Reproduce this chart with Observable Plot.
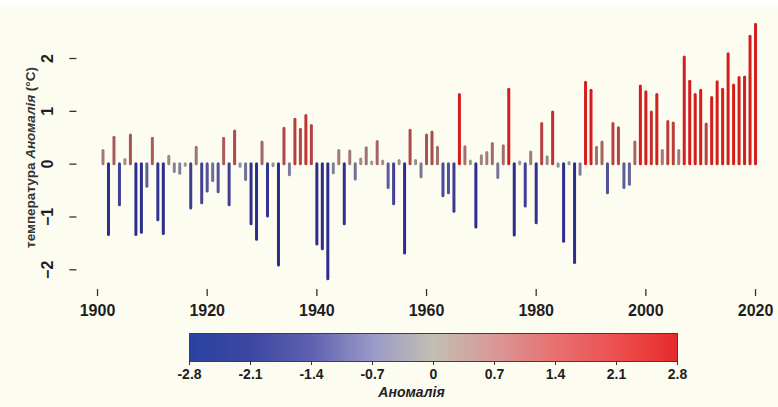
<!DOCTYPE html>
<html><head><meta charset="utf-8">
<script src="https://cdn.jsdelivr.net/npm/d3@7"></script>
<script src="https://cdn.jsdelivr.net/npm/@observablehq/plot@0.6"></script>
<style>
html,body{margin:0;padding:0;background:#fdfcf1;}
#wrap{width:778px;height:407px;position:relative;overflow:hidden;background:linear-gradient(#ffffff 0 5px,#fdfcf1 5px);font-family:"Liberation Sans",Arial,sans-serif;}
#wrap svg{display:block;background:transparent;}
</style></head><body><div id="wrap"></div>
<script>
// ---- data ----
const startYear = 1901;
const anomalies = [
  0.25,-1.34,0.50,-0.78,0.08,0.54,-1.34,-1.30,-0.43,0.48,
  -1.06,-1.32,0.14,-0.15,-0.18,-0.03,-0.84,0.31,-0.74,-0.52,
  -0.32,-0.53,0.48,-0.78,0.62,-0.05,-0.30,-1.14,-1.43,0.41,
  -0.99,-0.04,-1.92,0.67,-0.21,0.84,0.65,0.91,0.72,-1.52,
  -1.61,-2.18,-0.17,0.25,-1.14,0.24,-0.29,0.09,0.30,0.03,
  0.42,0.05,-0.45,-0.76,0.06,-1.69,0.63,0.06,-0.25,0.54,
  0.60,0.31,-0.61,-0.55,-0.90,1.31,0.32,0.05,-1.20,0.15,
  0.21,0.38,-0.26,0.34,1.41,-1.35,0.03,-0.80,0.22,-1.12,
  0.76,0.13,0.98,-0.05,-1.47,0.02,-1.87,-0.20,1.54,1.39,
  0.31,0.41,-0.55,0.76,0.68,-0.45,-0.39,0.41,1.47,1.36,
  0.98,1.31,0.25,0.80,0.77,0.25,2.02,1.56,1.31,1.39,
  0.75,1.25,1.55,1.41,2.08,1.49,1.63,1.64,2.41,2.64
];
const xTicks = [1900, 1920, 1940, 1960, 1980, 2000, 2020];
const yTicks = [-2, -1, 0, 1, 2];
const yTitleA = "температура ";
const yTitleB = "Аномалія";
const yTitleC = " (°C)";
const legendTicks = [-2.8, -2.1, -1.4, -0.7, 0, 0.7, 1.4, 2.1, 2.8];
const legendTitle = "Аномалія";
const barColorDomain = [-1.2, -0.6, 0, 0.6, 1.2];
const barColorRange = ["#2d2d8c", "#48489a", "#9a9894", "#ab4c4c", "#d41e1e"];
const legendColorDomain = [-2.8, -2.1, -1.4, -0.7, 0, 0.7, 1.4, 2.1, 2.8];
const legendColorRange = ["#2b43a0", "#3b47a2", "#5f61b0", "#9a99c8", "#c3bfb1", "#d99898", "#e87070", "#ec5050", "#e62b2b"];

const data = anomalies.map((v, i) => ({year: startYear + i, value: v}));
const yTitle = yTitleA + yTitleB + yTitleC;
const font = "Liberation Sans, Arial, sans-serif";

const main = Plot.plot({
  width: 778, height: 328,
  marginLeft: 76.4, marginRight: 0, marginTop: 14, marginBottom: 39,
  style: {background: "transparent", fontFamily: font, overflow: "visible"},
  x: {domain: [1896.24, 2024.19]},
  y: {domain: [-2.373, 2.833]},
  color: {type: "linear", domain: barColorDomain, range: barColorRange, clamp: true},
  marks: [
    Plot.ruleX(data, {x: "year", y1: 0, y2: "value", stroke: "value", strokeWidth: 3, strokeLinecap: "round"}),
    Plot.axisX({ticks: xTicks, tickFormat: d => String(d), tickSize: 7, tickPadding: 8, fontSize: 16, fontWeight: "bold", stroke: "#333", strokeWidth: 1.3, fill: "#1e1e1e", line: true, label: null}),
    Plot.axisY({ticks: yTicks, tickFormat: () => "", tickSize: 7, stroke: "#333", strokeWidth: 1.3, line: true, label: null}),
    Plot.text(yTicks, {y: d => d, text: d => d < 0 ? "\u2212" + Math.abs(d) : String(d), frameAnchor: "left", textAnchor: "middle", dx: -29.4, rotate: -90, fontSize: 16, fontWeight: "bold", fill: "#1e1e1e"}),
    Plot.text([yTitle], {text: d => d, frameAnchor: "left", textAnchor: "middle", dx: -46.4, dy: 5.5, rotate: -90, fontSize: 13.5, fontWeight: "bold", fill: "#333"})
  ]
});

// italicise the word "Аномалія" in the y-axis title
d3.select(main).selectAll("text").filter(function() { return this.textContent === yTitle; }).each(function() {
  const t = d3.select(this);
  t.text(null);
  t.append("tspan").text(yTitleA);
  t.append("tspan").attr("font-style", "italic").text(yTitleB);
  t.append("tspan").text(yTitleC);
});

const step = 0.02;
const ramp = d3.range(-2.8, 2.8 - 1e-9, step);
const legend = Plot.plot({
  width: 778, height: 79,
  marginLeft: 189, marginRight: 101, marginTop: 5, marginBottom: 46,
  style: {background: "transparent", fontFamily: font, overflow: "visible"},
  x: {domain: [-2.8, 2.8]},
  y: {domain: [0, 1], axis: null},
  color: {type: "linear", domain: legendColorDomain, range: legendColorRange},
  marks: [
    Plot.rect(ramp, {x1: d => d, x2: d => Math.min(2.8, d + step * 1.5), y1: 0, y2: 1, fill: d => d + step / 2}),
    Plot.frame({stroke: "#4a3848", strokeWidth: 1}),
    Plot.axisX({ticks: legendTicks, tickFormat: d => (d < 0 ? "-" + Math.abs(d) : String(d)), tickSize: 4, tickPadding: 4, fontSize: 14, fontWeight: "bold", stroke: "#333", fill: "#1e1e1e", label: null}),
    Plot.text([legendTitle], {text: d => d, frameAnchor: "bottom", dy: 35, dx: -22, fontSize: 14, fontStyle: "italic", fontWeight: "bold", fill: "#222"})
  ]
});

const wrap = document.getElementById("wrap");
wrap.appendChild(main);
wrap.appendChild(legend);
</script></body></html>
